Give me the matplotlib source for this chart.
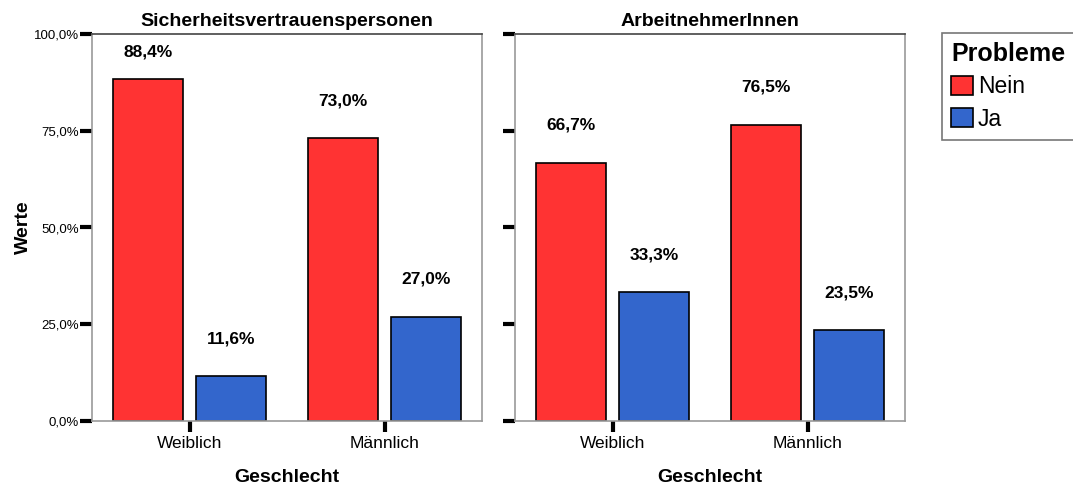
import matplotlib
matplotlib.use("Agg")
import matplotlib.pyplot as plt
from matplotlib.patches import Patch

plt.rcParams['font.family'] = ['Liberation Sans', 'DejaVu Sans']

panels = ["Sicherheitsvertrauenspersonen", "ArbeitnehmerInnen"]
categories = ["Weiblich", "Männlich"]
series = ["Nein", "Ja"]
nein_values = [[88.4, 73.0], [66.7, 76.5]]
ja_values = [[11.6, 27.0], [33.3, 23.5]]
colors = {"Nein": "#FF3333", "Ja": "#3366CC"}
yticks = [0, 25, 50, 75, 100]
ytick_labels = ["0,0%", "25,0%", "50,0%", "75,0%", "100,0%"]

W, H = 1073, 486
fig = plt.figure(figsize=(W / 100, H / 100), dpi=100)

def fr(x0, y0, x1, y1):
    return [x0 / W, 1 - y1 / H, (x1 - x0) / W, (y1 - y0) / H]

axes = [fig.add_axes(fr(92, 34, 482, 421)), fig.add_axes(fr(515, 34, 905, 421))]

bw = 0.36
gap = 0.065
for i, ax in enumerate(axes):
    xs = [0, 1]
    for j, x in enumerate(xs):
        for k, (name, vals) in enumerate([("Nein", nein_values), ("Ja", ja_values)]):
            v = vals[i][j]
            cx = x - (bw + gap) / 2 + k * (bw + gap)
            ax.bar(cx, v, width=bw, color=colors[name], edgecolor="black", linewidth=1.2, zorder=2)
            ly = min(v + 9.7, 95.3)
            ax.text(cx, ly, f"{v:.1f}%".replace(".", ","), ha="center", va="center",
                    fontsize=12.5, fontweight="bold")
    ax.set_xlim(-0.5, 1.5)
    ax.set_ylim(0, 100)
    ax.set_xticks(xs)
    ax.set_xticklabels(categories, fontsize=12.5)
    ax.set_yticks(yticks)
    if i == 0:
        ax.set_yticklabels(ytick_labels, fontsize=9.5)
        ax.set_ylabel("Werte", fontsize=14, fontweight="bold", labelpad=1)
    else:
        ax.set_yticklabels([])
    ax.tick_params(axis="y", direction="out", length=9, width=3, color="black", pad=0.5)
    ax.tick_params(axis="x", direction="out", length=8, width=3, color="black", pad=3)
    ax.set_xlabel("Geschlecht", fontsize=14, fontweight="bold", labelpad=13)
    ax.set_title(panels[i], fontsize=14, fontweight="bold", pad=6)
    for s in ["left", "bottom", "right"]:
        ax.spines[s].set_color("#999999")
        ax.spines[s].set_linewidth(1.2)
    ax.spines["top"].set_color("#444444")
    ax.spines["top"].set_linewidth(1.2)

handles = [Patch(facecolor=colors[s], edgecolor="black", linewidth=1.2, label=s) for s in series]
leg = fig.legend(handles=handles, title="Probleme", loc="upper left",
                 bbox_to_anchor=(942 / W, 1 - 33 / H), borderaxespad=0,
                 fontsize=16.5, title_fontsize=18,
                 frameon=True, fancybox=False, edgecolor="#555555", handlelength=0.96,
                 handleheight=0.87, handletextpad=0.2, borderpad=0.4, labelspacing=0.4,
                 alignment="left")
leg.get_title().set_fontweight("bold")
leg.get_frame().set_linewidth(1.2)

fig.savefig("out.png", dpi=100)
